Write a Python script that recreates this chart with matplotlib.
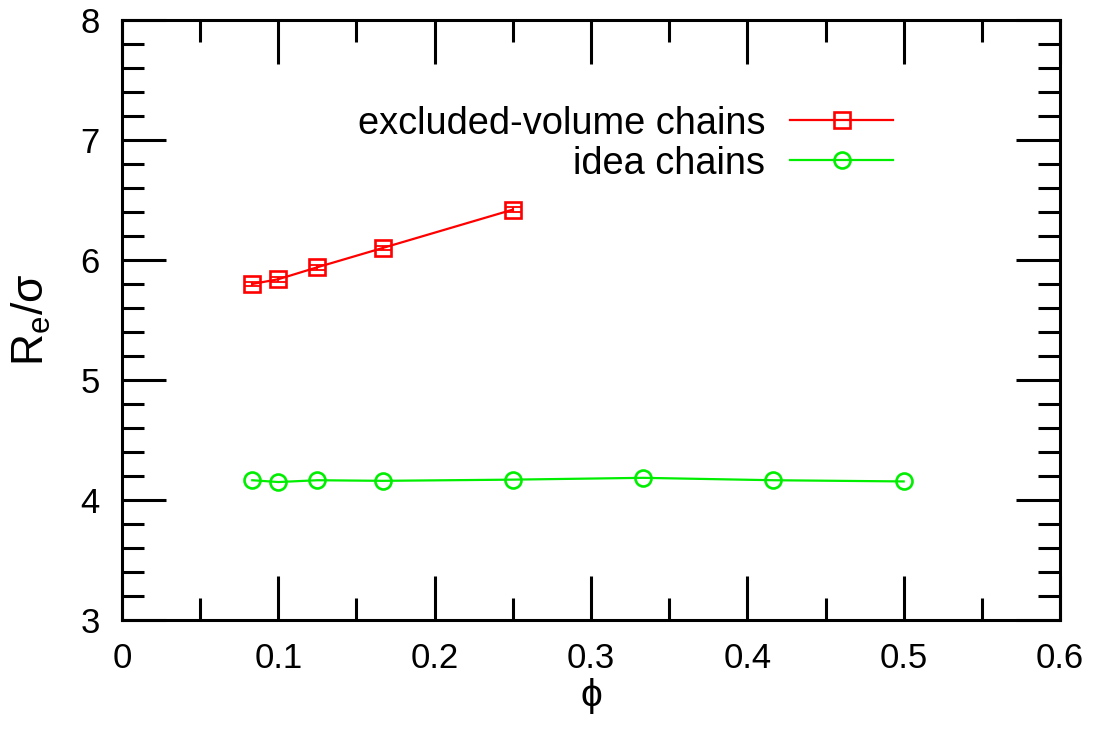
import matplotlib
matplotlib.use('Agg')
import matplotlib.pyplot as plt
from matplotlib.ticker import MultipleLocator

plt.rcParams['font.family'] = ['Liberation Sans', 'DejaVu Sans']
plt.rcParams['mathtext.fontset'] = 'custom'
plt.rcParams['mathtext.rm'] = 'Liberation Sans'
plt.rcParams['mathtext.it'] = 'Liberation Sans'

# volume fraction and end-to-end distance
phi_ev = [1/12, 0.1, 0.125, 1/6, 0.25]
re_ev = [5.80, 5.84, 5.94, 6.10, 6.42]
err_ev = [0.02, 0.02, 0.02, 0.02, 0.02]

phi_ideal = [1/12, 0.1, 0.125, 1/6, 0.25, 1/3, 5/12, 0.5]
re_ideal = [4.165, 4.15, 4.165, 4.16, 4.17, 4.185, 4.165, 4.155]

labels = ['excluded-volume chains', 'idea chains']

fig = plt.figure(figsize=(10.97, 7.33), dpi=100)
ax = fig.add_axes([0.1112, 0.1541, 0.8551, 0.8186])

ax.errorbar(phi_ev, re_ev, yerr=err_ev, color='#ff0000', fmt='none',
            capsize=6, elinewidth=1.3, capthick=1.3)
h1, = ax.plot(phi_ev, re_ev, color='#ff0000', lw=1.6,
              marker='s', ms=12, mfc='none', mew=1.9)
h2, = ax.plot(phi_ideal, re_ideal, color='#00ee00', lw=1.6,
              marker='o', ms=11.5, mfc='none', mew=1.9)

ax.set_xlim(0, 0.6)
ax.set_ylim(3, 8)
ax.xaxis.set_minor_locator(MultipleLocator(0.05))
ax.yaxis.set_major_locator(MultipleLocator(1))
ax.yaxis.set_minor_locator(MultipleLocator(0.2))
ax.set_xticks([0, 0.1, 0.2, 0.3, 0.4, 0.5, 0.6])
ax.set_xticklabels(['0', '0.1', '0.2', '0.3', '0.4', '0.5', '0.6'])

ax.tick_params(which='both', direction='in', top=True, right=True,
               width=2.2, labelsize=25, pad=16)
ax.tick_params(which='major', length=32)
ax.tick_params(which='minor', length=16)
for s in ax.spines.values():
    s.set_linewidth(2.2)

ax.set_xlabel('ϕ', fontsize=28, labelpad=2)
ax.set_ylabel(r'$\mathregular{R_e/\sigma}$', fontsize=32, labelpad=20)

ax.legend([h1, h2], labels, loc='upper right', bbox_to_anchor=(0.814, 0.856),
          bbox_transform=fig.transFigure, frameon=False, markerfirst=False,
          fontsize=27.4, handlelength=2.7, handletextpad=0.66,
          labelspacing=0.11, borderpad=0, borderaxespad=0)

fig.savefig('out.png', dpi=100)
